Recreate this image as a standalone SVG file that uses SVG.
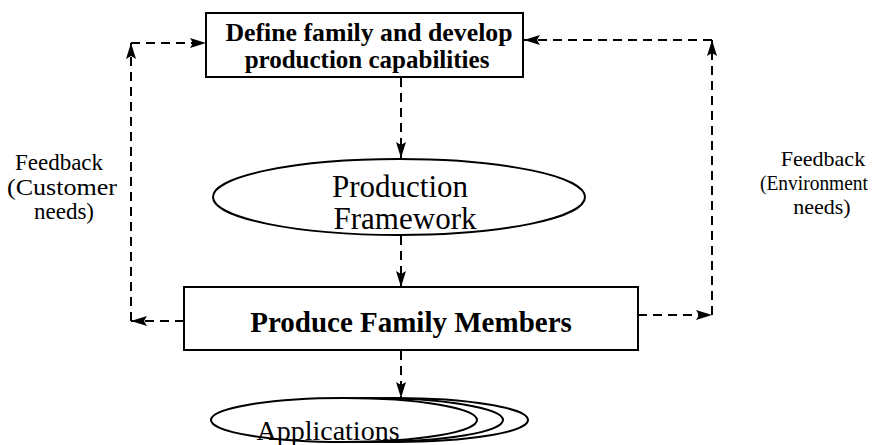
<svg xmlns="http://www.w3.org/2000/svg" width="879" height="445" viewBox="0 0 879 445">
<style>
.box{fill:#fff;stroke:#000;stroke-width:2}
.ell{fill:#fff;stroke:#000;stroke-width:2}
.dash{fill:none;stroke:#000;stroke-width:2;stroke-dasharray:9 6}
.bt{font-family:"Liberation Serif",serif;font-weight:bold;fill:#000;text-anchor:middle}
.rt{font-family:"Liberation Serif",serif;fill:#000;text-anchor:middle}
</style>
<defs>
<marker id="ah" viewBox="0 0 16 10" refX="16" refY="5" markerWidth="16" markerHeight="10" markerUnits="userSpaceOnUse" orient="auto">
<path d="M0,0 L16,5 L0,10 L3,5 Z" fill="#000"/>
</marker>
</defs>
<g id="connectors">
<line class="dash" x1="401" y1="78" x2="401" y2="158" marker-end="url(#ah)"/>
<line class="dash" x1="401" y1="236" x2="401" y2="287" marker-end="url(#ah)"/>
<line class="dash" x1="401" y1="351" x2="401" y2="398" marker-end="url(#ah)"/>
<line class="dash" x1="184" y1="321" x2="131" y2="321" marker-end="url(#ah)"/>
<line class="dash" x1="131" y1="321" x2="131" y2="43" marker-end="url(#ah)"/>
<line class="dash" x1="131" y1="43" x2="206" y2="43" marker-end="url(#ah)"/>
<line class="dash" x1="638" y1="315" x2="712" y2="315" marker-end="url(#ah)"/>
<line class="dash" x1="712" y1="315" x2="712" y2="40" marker-end="url(#ah)"/>
<line class="dash" x1="712" y1="40" x2="524" y2="40" marker-end="url(#ah)"/>
</g>
<g id="define">
<rect class="box" x="206" y="13" width="317" height="64"/>
<text class="bt" x="369" y="41" font-size="25" textLength="287" lengthAdjust="spacingAndGlyphs">Define family and develop</text>
<text class="bt" x="367" y="68" font-size="25">production capabilities</text>
</g>
<g id="framework">
<ellipse class="ell" cx="399" cy="197" rx="186" ry="38"/>
<text class="rt" x="400" y="197" font-size="31">Production</text>
<text class="rt" x="405" y="229" font-size="31">Framework</text>
</g>
<g id="produce">
<rect class="box" x="184" y="287" width="454" height="63"/>
<text class="bt" x="411" y="332" font-size="29">Produce Family Members</text>
</g>
<g id="feedback-customer">
<text class="rt" x="59" y="170" font-size="23">Feedback</text>
<text class="rt" x="62" y="195" font-size="23" textLength="110" lengthAdjust="spacingAndGlyphs">(Customer</text>
<text class="rt" x="64" y="219" font-size="23">needs)</text>
</g>
<g id="feedback-environment">
<text class="rt" x="823" y="166" font-size="22">Feedback</text>
<text class="rt" x="814" y="190" font-size="21" textLength="108" lengthAdjust="spacingAndGlyphs">(Environment</text>
<text class="rt" x="822" y="214" font-size="22">needs)</text>
</g>
<g id="applications">
<ellipse class="ell" cx="394" cy="420" rx="134" ry="22"/>
<ellipse class="ell" cx="369" cy="420" rx="134" ry="22"/>
<ellipse class="ell" cx="344" cy="420" rx="133" ry="22"/>
<text class="rt" x="328" y="440" font-size="28">Applications</text>
</g>
</svg>
